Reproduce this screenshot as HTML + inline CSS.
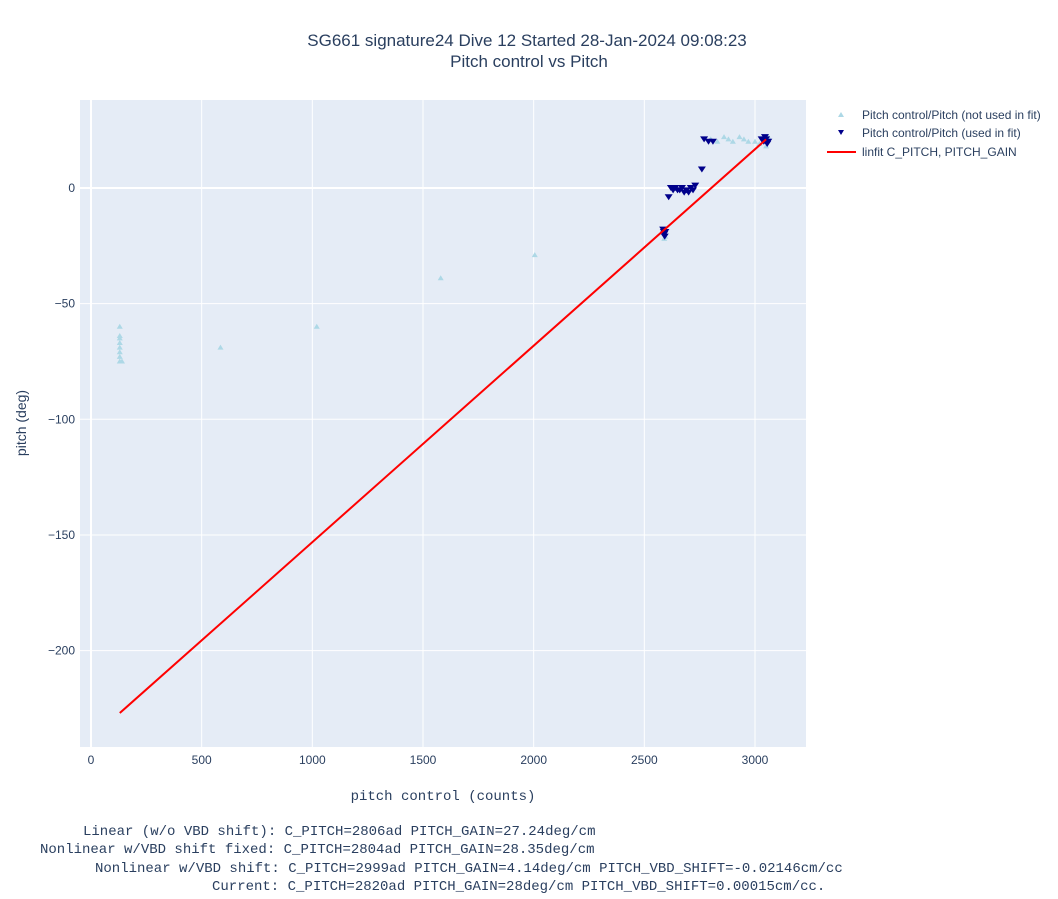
<!DOCTYPE html>
<html><head><meta charset="utf-8"><style>
body{margin:0;background:#fff;font-family:"Liberation Sans",sans-serif;}
</style></head><body>
<svg width="1058" height="894" xmlns="http://www.w3.org/2000/svg" id="chart" font-family="Liberation Sans, sans-serif">
<text x="527" y="46" text-anchor="middle" font-size="17" fill="#2a3f5f">SG661 signature24 Dive 12 Started 28-Jan-2024 09:08:23</text>
<text x="529" y="67" text-anchor="middle" font-size="17" fill="#2a3f5f">Pitch control vs Pitch</text>
<rect x="80" y="100" width="726" height="647" fill="#e5ecf6"/>
<g id="grid"></g>
<g id="marks"></g>
<text x="443" y="800" text-anchor="middle" font-size="14" font-family="Liberation Mono, monospace" fill="#2a3f5f">pitch control (counts)</text>
<text transform="translate(26,423) rotate(-90)" text-anchor="middle" font-size="14" fill="#2a3f5f">pitch (deg)</text>
<g font-size="12" fill="#2a3f5f">
<polygon points="841,112 838,117 844,117" fill="#add8e6"/>
<text x="862" y="119">Pitch control/Pitch (not used in fit)</text>
<polygon points="838,130 844,130 841,135" fill="#00008b"/>
<text x="862" y="137">Pitch control/Pitch (used in fit)</text>
<line x1="827" y1="152" x2="856" y2="152" stroke="red" stroke-width="2"/>
<text x="862" y="156">linfit C_PITCH, PITCH_GAIN</text>
</g>
<g font-family="Liberation Mono, monospace" font-size="14" fill="#2a3f5f" xml:space="preserve">
<text x="83" y="835">Linear (w/o VBD shift): C_PITCH=2806ad PITCH_GAIN=27.24deg/cm</text>
<text x="40" y="853">Nonlinear w/VBD shift fixed: C_PITCH=2804ad PITCH_GAIN=28.35deg/cm</text>
<text x="95" y="872">Nonlinear w/VBD shift: C_PITCH=2999ad PITCH_GAIN=4.14deg/cm PITCH_VBD_SHIFT=-0.02146cm/cc</text>
<text x="212" y="890">Current: C_PITCH=2820ad PITCH_GAIN=28deg/cm PITCH_VBD_SHIFT=0.00015cm/cc.</text>
</g>
</svg>
<script>
const xTicks=[0,500,1000,1500,2000,2500,3000];
const yTicks=[0,-50,-100,-150,-200];
const notUsedX=[130,130,130,130,130,130,130,130,140,585,1020,1580,2005,2590,2595,2800,2830,2860,2880,2900,2930,2950,2970,3000,3020,3050,3055,3060];
const notUsedY=[-60,-64,-65,-67,-69,-71,-73,-75,-75,-69,-60,-39,-29,-22,-21,21,20,22,21,20,22,21,20,20,19,18,21,22];
const usedX=[2585,2588,2590,2592,2595,2610,2620,2630,2640,2650,2660,2670,2680,2690,2700,2710,2720,2730,2760,2770,2790,2810,3030,3040,3045,3050,3055,3060];
const usedY=[-18,-19,-20,-21,-19,-4,0,-1,0,-1,-1,0,-2,-1,-2,0,-1,1,8,21,20,20,21,20,22,21,19,20];
const fitX=[130,3050];
const fitY=[-227,21];
const sx=v=>91+v*(664/3000);
const sy=v=>188-v*2.313;
const NS="http://www.w3.org/2000/svg";
const grid=document.getElementById('grid'),marks=document.getElementById('marks'),svg=document.getElementById('chart');
function mk(t,a,p){const e=document.createElementNS(NS,t);for(const k in a)e.setAttribute(k,a[k]);p.appendChild(e);return e;}
xTicks.forEach(t=>{
 const l=mk('line',{x1:sx(t),x2:sx(t),y1:100,y2:747,stroke:'#fff','stroke-width':t===0?2:1},grid);
 
 
 const tx=mk('text',{x:sx(t),y:764,'text-anchor':'middle','font-size':12,fill:'#2a3f5f'},svg);
 tx.textContent=t;
 
 
});
yTicks.forEach(t=>{
 const l=mk('line',{x1:80,x2:806,y1:sy(t),y2:sy(t),stroke:'#fff','stroke-width':t===0?2:1},grid);
 
 
 const tx=mk('text',{x:75,y:sy(t)+4,'text-anchor':'end','font-size':12,fill:'#2a3f5f'},svg);
 tx.textContent=String(t).replace('-','\u2212');
 
 
});
notUsedX.forEach((v,i)=>{
 const x=sx(v),y=sy(notUsedY[i]);
 const p=mk('polygon',{points:`${x},${y-3} ${x-3},${y+2} ${x+3},${y+2}`,fill:'#add8e6'},marks);
 
 
});
usedX.forEach((v,i)=>{
 const x=sx(v),y=sy(usedY[i]);
 const p=mk('polygon',{points:`${x-4},${y-3} ${x+4},${y-3} ${x},${y+3}`,fill:'#00008b'},marks);
 
 
});
const fl=mk('polyline',{points:fitX.map((v,i)=>sx(v)+','+sy(fitY[i])).join(' '),stroke:'red','stroke-width':2,fill:'none'},marks);


</script>
</body></html>
